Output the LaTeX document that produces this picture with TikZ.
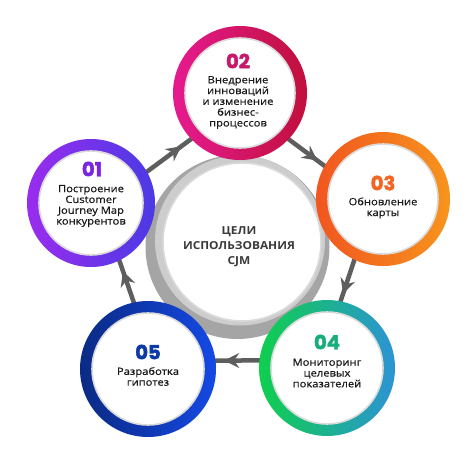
\documentclass[tikz,border=0pt]{standalone}
\usepackage{fontspec}
\setmainfont{Open Sans}
\newfontfamily\numfont{Poppins}[BoldFeatures={FakeBold=2.2}]
\newfontfamily\bodyfont{Open Sans}[FakeStretch=1.12, FakeBold=0.6]
\newfontfamily\titlefont{Open Sans}[FakeStretch=1.08]
\usetikzlibrary{calc,arrows.meta,decorations.markings}
\definecolor{connc}{HTML}{5E5E5E}
\definecolor{cdark}{HTML}{A5A5A5}
\definecolor{clight}{HTML}{CDCDCD}
\definecolor{edgec}{HTML}{DADADA}
\definecolor{titlec}{HTML}{3A3A3A}
\definecolor{bodyc}{HTML}{1A1A1A}
\definecolor{aL}{HTML}{9A2CEE}\definecolor{aR}{HTML}{4B3AE4}\definecolor{aN}{HTML}{7A24E4}
\definecolor{bL}{HTML}{E61A90}\definecolor{bR}{HTML}{C0103C}\definecolor{bN}{HTML}{C8186A}
\definecolor{cL}{HTML}{F1561F}\definecolor{cR}{HTML}{F7941D}\definecolor{cN}{HTML}{F26522}
\definecolor{dL}{HTML}{0FCF4E}\definecolor{dR}{HTML}{2C93D4}\definecolor{dN}{HTML}{17AE7C}
\definecolor{eL}{HTML}{0A2A84}\definecolor{eR}{HTML}{1549E4}\definecolor{eN}{HTML}{0D3AA6}
\tikzset{
  conn/.style={draw=connc, line width=4.5pt, postaction={decorate},
    decoration={markings, mark=at position 0.58 with {\arrow{Stealth[length=15pt,width=15pt,inset=5pt]}}}},
  ringdisk/.style={circle, minimum size=#1, inner sep=0pt, outer sep=0pt},
  whitedisk/.style={circle, fill=white, draw=edgec, line width=1.6pt, minimum size=#1, inner sep=0pt},
  numtxt/.style={inner sep=0pt, font=\numfont\bfseries\fontsize{19.5}{19.5}\selectfont},
  bodytxt/.style={align=center, inner sep=0pt, text=bodyc, font=\bodyfont\fontsize{10}{10.8}\selectfont},
}
\begin{document}
\begin{tikzpicture}[x=1pt,y=-1pt]
\useasboundingbox (0,0) rectangle (474,460);
\fill[white] (0,0) rectangle (474,460);
% centres
\coordinate (O) at (238,250);
\coordinate (c01) at (91,203);
\coordinate (c02) at (240,93);
\coordinate (c03) at (383,199);
\coordinate (c04) at (327,368);
\coordinate (c05) at (148,369);
\coordinate (p01) at ($(c01)!10pt!(O)$);
\coordinate (p02) at ($(c02)!10pt!(O)$);
\coordinate (p03) at ($(c03)!10pt!(O)$);
\coordinate (p04) at ($(c04)!10pt!(O)$);
\coordinate (p05) at ($(c05)!10pt!(O)$);
% connectors
\draw[conn] (p01) -- (p02);
\draw[conn] (p02) -- (p03);
\draw[conn] (p03) -- (p04);
\draw[conn] (p04) -- (p05);
\draw[conn] (p05) -- (p01);
% central ring
\fill[cdark] (237.5,247) circle (92pt);
\fill[clight] (240,240.5) circle (85pt);
\node[whitedisk=158pt] (core) at (242,242) {};
\node[align=center, inner sep=0pt, text=titlec, font=\titlefont\bfseries\fontsize{11}{15}\selectfont] (title) at (239,247) {ЦЕЛИ\\ИСПОЛЬЗОВАНИЯ\\CJM};
% circle 01
\node[ringdisk=128pt, left color=aL, right color=aR] (r01) at (c01) {};
\node[whitedisk=104pt] (w01) at (c01) {};
\node[numtxt, text=aN] (n01) at (92,169) {01};
\node[bodytxt] (t01) at (91,206) {Построение\\Customer\\Journey Map\\конкурентов};
% circle 02
\node[ringdisk=134pt, left color=bL, right color=bR] (r02) at (c02) {};
\node[whitedisk=110pt] (w02) at (c02) {};
\node[numtxt, text=bN] (n02) at (238,61) {02};
\node[bodytxt] (t02) at (238,102.5) {Внедрение\\инноваций\\и изменение\\бизнес-\\процессов};
% circle 03
\node[ringdisk=134pt, left color=cL, right color=cR] (r03) at (c03) {};
\node[whitedisk=110pt] (w03) at (c03) {};
\node[numtxt, text=cN] (n03) at (383,183) {03};
\node[bodytxt] (t03) at (383,208) {Обновление\\карты};
% circle 04
\node[ringdisk=136pt, left color=dL, right color=dR] (r04) at (c04) {};
\node[whitedisk=112pt] (w04) at (c04) {};
\node[numtxt, text=dN] (n04) at (327,342) {04};
\node[bodytxt] (t04) at (327,373) {Мониторинг\\целевых\\показателей};
% circle 05
\node[ringdisk=136pt, left color=eL, right color=eR] (r05) at (c05) {};
\node[whitedisk=112pt] (w05) at (c05) {};
\node[numtxt, text=eN] (n05) at (148,352) {05};
\node[bodytxt] (t05) at (148,376.5) {Разработка\\гипотез};
\end{tikzpicture}
\end{document}
